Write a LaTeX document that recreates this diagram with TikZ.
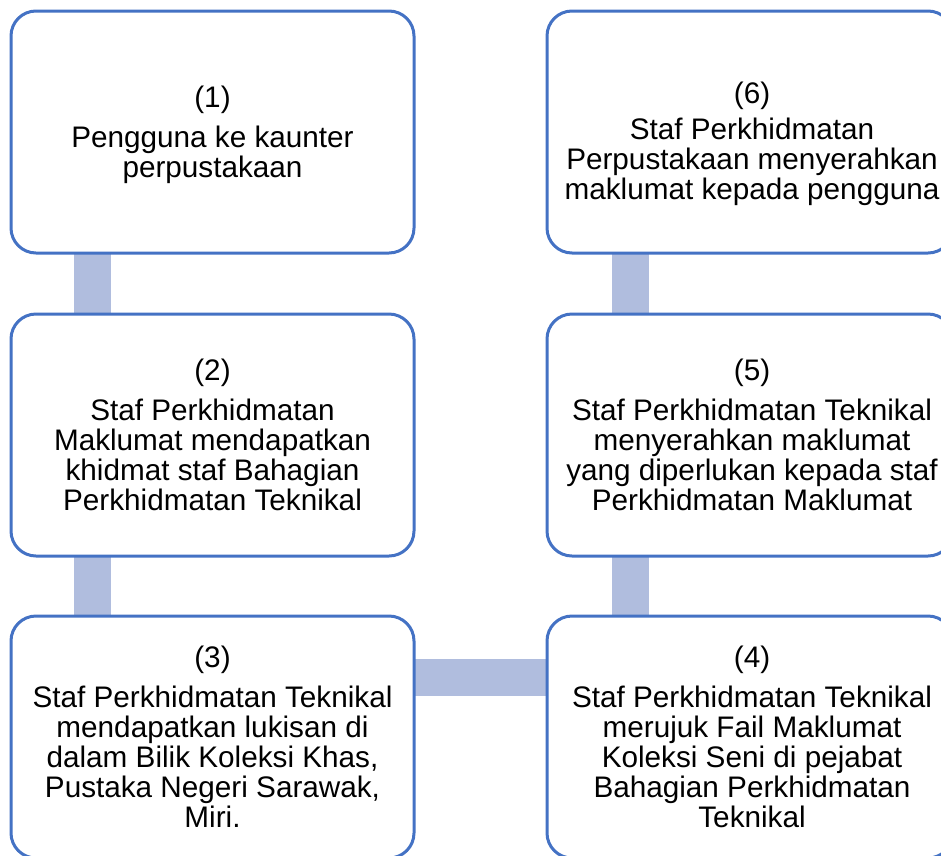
\documentclass[tikz,border=0pt]{standalone}
\usepackage{fontspec}
\setmainfont{Liberation Sans}
\definecolor{boxblue}{RGB}{68,114,196}
\definecolor{barblue}{RGB}{176,189,222}
\newcommand\mytxtfont{\fontsize{29.7pt}{30pt}\selectfont\lineskiplimit=-20pt\relax}
\begin{document}
\begin{tikzpicture}[x=1pt,y=-1pt,
  stepbox/.style={draw=boxblue, line width=3pt, fill=white, rounded corners=25pt,
    minimum height=242pt, inner sep=0pt},
  leftbox/.style={stepbox, minimum width=403pt},
  rightbox/.style={stepbox, minimum width=406pt},
  txt/.style={align=center, inner sep=0pt, font=\mytxtfont},
  conn/.style={draw=barblue, line width=37pt}
]
\useasboundingbox (0,0) rectangle (941,855);
% connectors (drawn behind boxes)
\coordinate (c1) at (92.5,253);
\coordinate (c2) at (92.5,314);
\coordinate (c3) at (92.5,556);
\coordinate (c4) at (92.5,616);
\coordinate (c5) at (630.5,253);
\coordinate (c6) at (630.5,314);
\coordinate (c7) at (630.5,556);
\coordinate (c8) at (630.5,616);
\coordinate (c9) at (414,677);
\coordinate (c10) at (547,677);
\draw[conn] (c1) -- (c2);
\draw[conn] (c3) -- (c4);
\draw[conn] (c5) -- (c6);
\draw[conn] (c7) -- (c8);
\draw[conn] (c9) -- (c10);
% boxes
\node[leftbox]  (b1) at (212.5,132) {};
\node[leftbox]  (b2) at (212.5,435) {};
\node[leftbox]  (b3) at (212.5,737) {};
\node[rightbox] (b4) at (750,737) {};
\node[rightbox] (b5) at (750,435) {};
\node[rightbox] (b6) at (750,132) {};
% texts
\node[txt] (t1) at ([yshift=-3pt]b1.center) {(1)\\[10pt]Pengguna ke kaunter\\perpustakaan};
\node[txt] (t2) at (b2.center) {(2)\\[10pt]Staf Perkhidmatan\\Maklumat mendapatkan\\khidmat staf Bahagian\\Perkhidmatan Teknikal};
\node[txt] (t3) at (b3.center) {(3)\\[10pt]Staf Perkhidmatan Teknikal\\mendapatkan lukisan di\\dalam Bilik Koleksi Khas,\\Pustaka Negeri Sarawak,\\Miri.};
\node[txt] (t4) at ([xshift=2pt]b4.center) {(4)\\[10pt]Staf Perkhidmatan Teknikal\\merujuk Fail Maklumat\\Koleksi Seni di pejabat\\Bahagian Perkhidmatan\\Teknikal};
\node[txt] (t5) at ([xshift=2pt]b5.center) {(5)\\[10pt]Staf Perkhidmatan Teknikal\\menyerahkan maklumat\\yang diperlukan kepada staf\\Perkhidmatan Maklumat};
\node[txt] (t6) at ([xshift=2pt,yshift=-12pt]b6.center) {(6)\\[6pt]Staf Perkhidmatan\\Perpustakaan menyerahkan\\maklumat kepada pengguna};
\end{tikzpicture}
\end{document}
